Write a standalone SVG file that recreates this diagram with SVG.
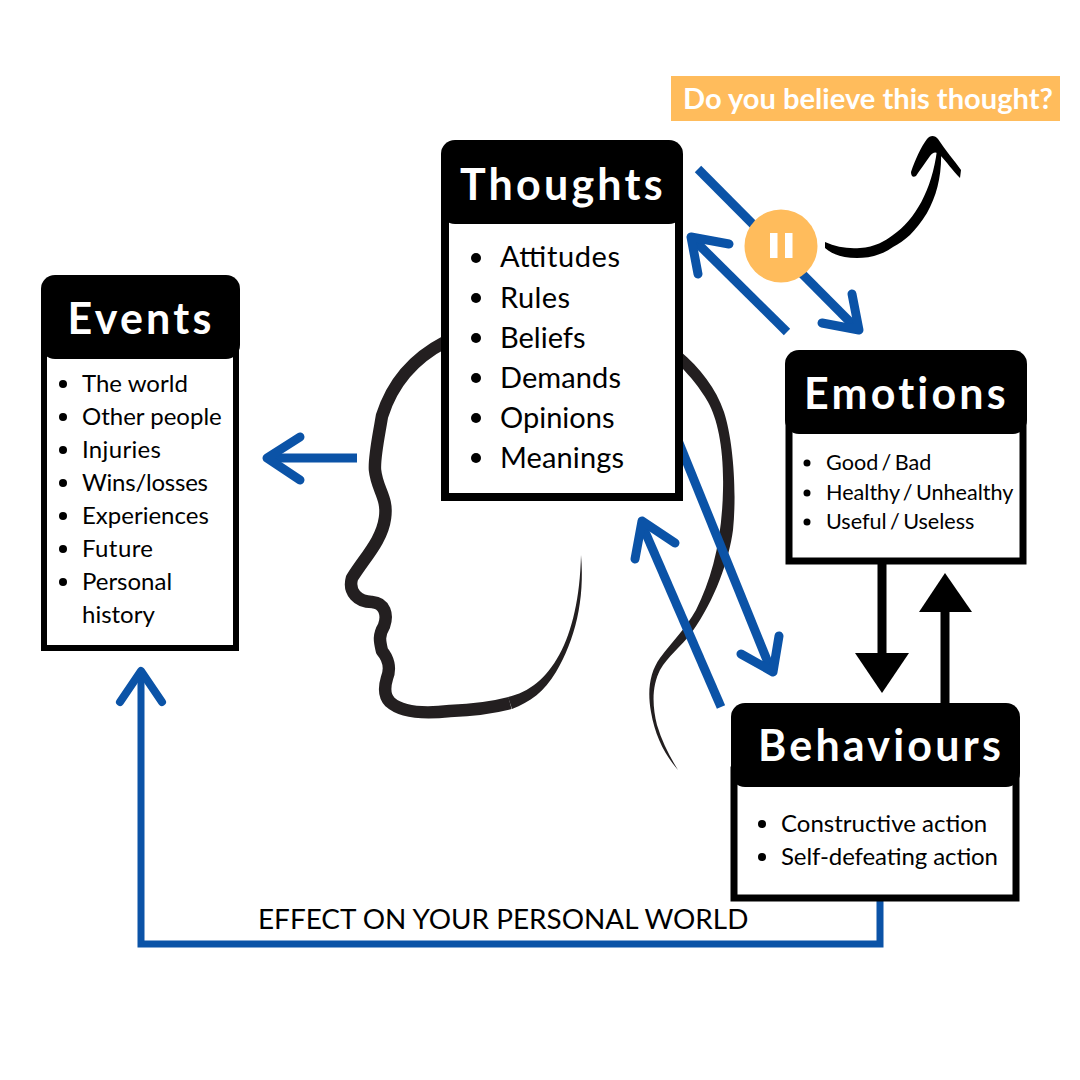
<svg xmlns="http://www.w3.org/2000/svg" width="1080" height="1080" viewBox="0 0 1080 1080">
<style>
text{font-family:Lato,"Noto Sans","Liberation Sans",sans-serif;fill:#000}
.title{font-size:43px;font-weight:700;fill:#fff;letter-spacing:3.2px}
.body{fill:#fff;stroke:#000}
.head{fill:#000}
.blue{fill:none;stroke:#0b53a7;stroke-width:9}
.cap{stroke-linecap:round;stroke-linejoin:round}
.t29{font-size:29px}.t24{font-size:24px}.t21{font-size:21.6px;word-spacing:-2.2px}
</style>
<rect width="1080" height="1080" fill="#fff"/>
<g id="head-outline" fill="none" stroke="#231f20" stroke-linejoin="round" stroke-linecap="butt">
<path stroke-width="12.5" d="M445 342C418 356 394 378 382 416C378 440 374 458 375 470C377 490 388 497 385 518C382 540 366 556 352 578C348 592 358 602 372 602C385 603 388 615 384 626C378 636 380 642 382 651C388 658 391 668 387 678C384 688 384 696 390 702C402 713 424 714 450 711C475 710 495 707 510 703"/>
<path fill="#231f20" stroke="none" d="M508 697C550 688 579 640 581 555C585 600 575 640 556 672C544 692 530 702 512 709Z"/>
<path fill="#231f20" stroke="none" d="M680 351C700 368 716 388 724 412C733 440 737 490 733 530C729 560 715 600 692 632C680 648 668 656 660 670C652 686 652 705 657 725C662 742 670 757 678 770C664 754 655 735 651 712C647 690 650 672 660 658C672 642 686 628 696 610C712 578 722 540 723 490C724 450 718 420 708 402C700 388 690 376 680 366Z"/>
</g>
<g id="connectors">
<path class="blue" d="M357 458H270"/>
<path class="blue cap" d="M300 437L267 458L300 480"/>
<path class="blue" style="stroke-width:7" d="M880 901V944H141V675"/>
<path class="blue cap" style="stroke-width:8" d="M120 702L141 671L162 702"/>
<path class="blue" d="M698 169L857 329"/>
<path class="blue cap" d="M852 294L859 330L822 323"/>
<path class="blue" d="M787 332L694 240"/>
<path class="blue cap" d="M729 244L691 237L698 274"/>
<path class="blue" d="M675 433L771 670"/>
<path class="blue cap" d="M741 654L773 672L779 636"/>
<path class="blue" d="M721 707L643 527"/>
<path class="blue cap" d="M635 559L642 521L675 543"/>
<path d="M882 560V656" stroke="#000" stroke-width="9" fill="none"/>
<path d="M855 653H909L882 693Z" fill="#000"/>
<path d="M945 706V610" stroke="#000" stroke-width="9" fill="none"/>
<path d="M919 612H972L945 573Z" fill="#000"/>
<path d="M825 242C836 247 848 249 860 248C875 247 885 241 893 235C915 220 932 190 937 150L941 150C942 175 937 195 927 213C915 232 905 241 893 247C880 256 868 258 857 258C842 258 832 254 825 248Z" fill="#000"/>
<path d="M911 172C915 160 921 147 927 139C930 135 935 135 938 139C945 150 954 160 961 170L960 178C952 170 947 162 940 155C936 151 933 152 930 156C925 163 920 170 916 176C913 178 911 176 911 172Z" fill="#000"/>
</g>
<g id="events">
<rect class="body" x="44" y="345" width="192" height="303" stroke-width="6"/>
<rect class="head" x="41" y="275" width="199" height="84" rx="14"/>
<text class="title" x="67.5" y="334">Events</text>
<g class="t24">
<text x="82" y="392">The world</text><text x="82" y="425">Other people</text><text x="82" y="458" textLength="79">Injuries</text><text x="82" y="491" textLength="126">Wins/losses</text><text x="82" y="524">Experiences</text><text x="82" y="557" textLength="71">Future</text><text x="82" y="590">Personal</text><text x="82" y="623">history</text>
</g>
<g><circle cx="63" cy="384" r="4"/><circle cx="63" cy="417" r="4"/><circle cx="63" cy="450" r="4"/><circle cx="63" cy="483" r="4"/><circle cx="63" cy="516" r="4"/><circle cx="63" cy="549" r="4"/><circle cx="63" cy="582" r="4"/></g>
</g>
<g id="thoughts">
<rect class="body" x="445" y="210" width="234" height="287" stroke-width="8"/>
<rect class="head" x="441" y="140" width="242" height="84" rx="14"/>
<text class="title" x="460" y="200">Thoughts</text>
<g class="t29">
<text x="500" y="267" textLength="120">Attitudes</text><text x="500" y="308" textLength="70">Rules</text><text x="500" y="348">Beliefs</text><text x="500" y="388" textLength="121">Demands</text><text x="500" y="428">Opinions</text><text x="500" y="468" textLength="124">Meanings</text>
</g>
<g><circle cx="476" cy="258" r="5"/><circle cx="476" cy="298" r="5"/><circle cx="476" cy="338" r="5"/><circle cx="476" cy="378" r="5"/><circle cx="476" cy="418" r="5"/><circle cx="476" cy="458" r="5"/></g>
</g>
<g id="emotions">
<rect class="body" x="789" y="420" width="234" height="141" stroke-width="7"/>
<rect class="head" x="785" y="350" width="242" height="84" rx="14"/>
<text class="title" x="804" y="409">Emotions</text>
<g class="t21">
<text x="826" y="470">Good / Bad</text><text x="826" y="500">Healthy / Unhealthy</text><text x="826" y="529">Useful / Useless</text>
</g>
<g><circle cx="807" cy="463" r="3.5"/><circle cx="807" cy="493" r="3.5"/><circle cx="807" cy="522" r="3.5"/></g>
</g>
<g id="behaviours">
<rect class="body" x="734" y="770" width="282" height="128" stroke-width="7"/>
<rect class="head" x="731" y="703" width="289" height="84" rx="14"/>
<text class="title" x="758" y="761">Behaviours</text>
<g class="t24">
<text x="781" y="832">Constructive action</text><text x="781" y="865" textLength="217">Self-defeating action</text>
</g>
<g><circle cx="762" cy="824" r="4"/><circle cx="762" cy="857" r="4"/></g>
</g>
<g id="pause">
<circle cx="781" cy="246" r="36.5" fill="#ffbc5c"/>
<rect x="770" y="233" width="7.5" height="25" fill="#fff"/>
<rect x="785" y="233" width="7.5" height="25" fill="#fff"/>
</g>
<g id="question">
<rect x="671" y="76" width="389" height="45" fill="#ffbc5c"/>
<text x="683" y="109" style="font-size:29.1px;font-weight:700;fill:#fff">Do you believe this thought?</text>
</g>
<text id="effect-label" x="258" y="929" style="font-size:27.9px">EFFECT ON YOUR PERSONAL WORLD</text>
</svg>
